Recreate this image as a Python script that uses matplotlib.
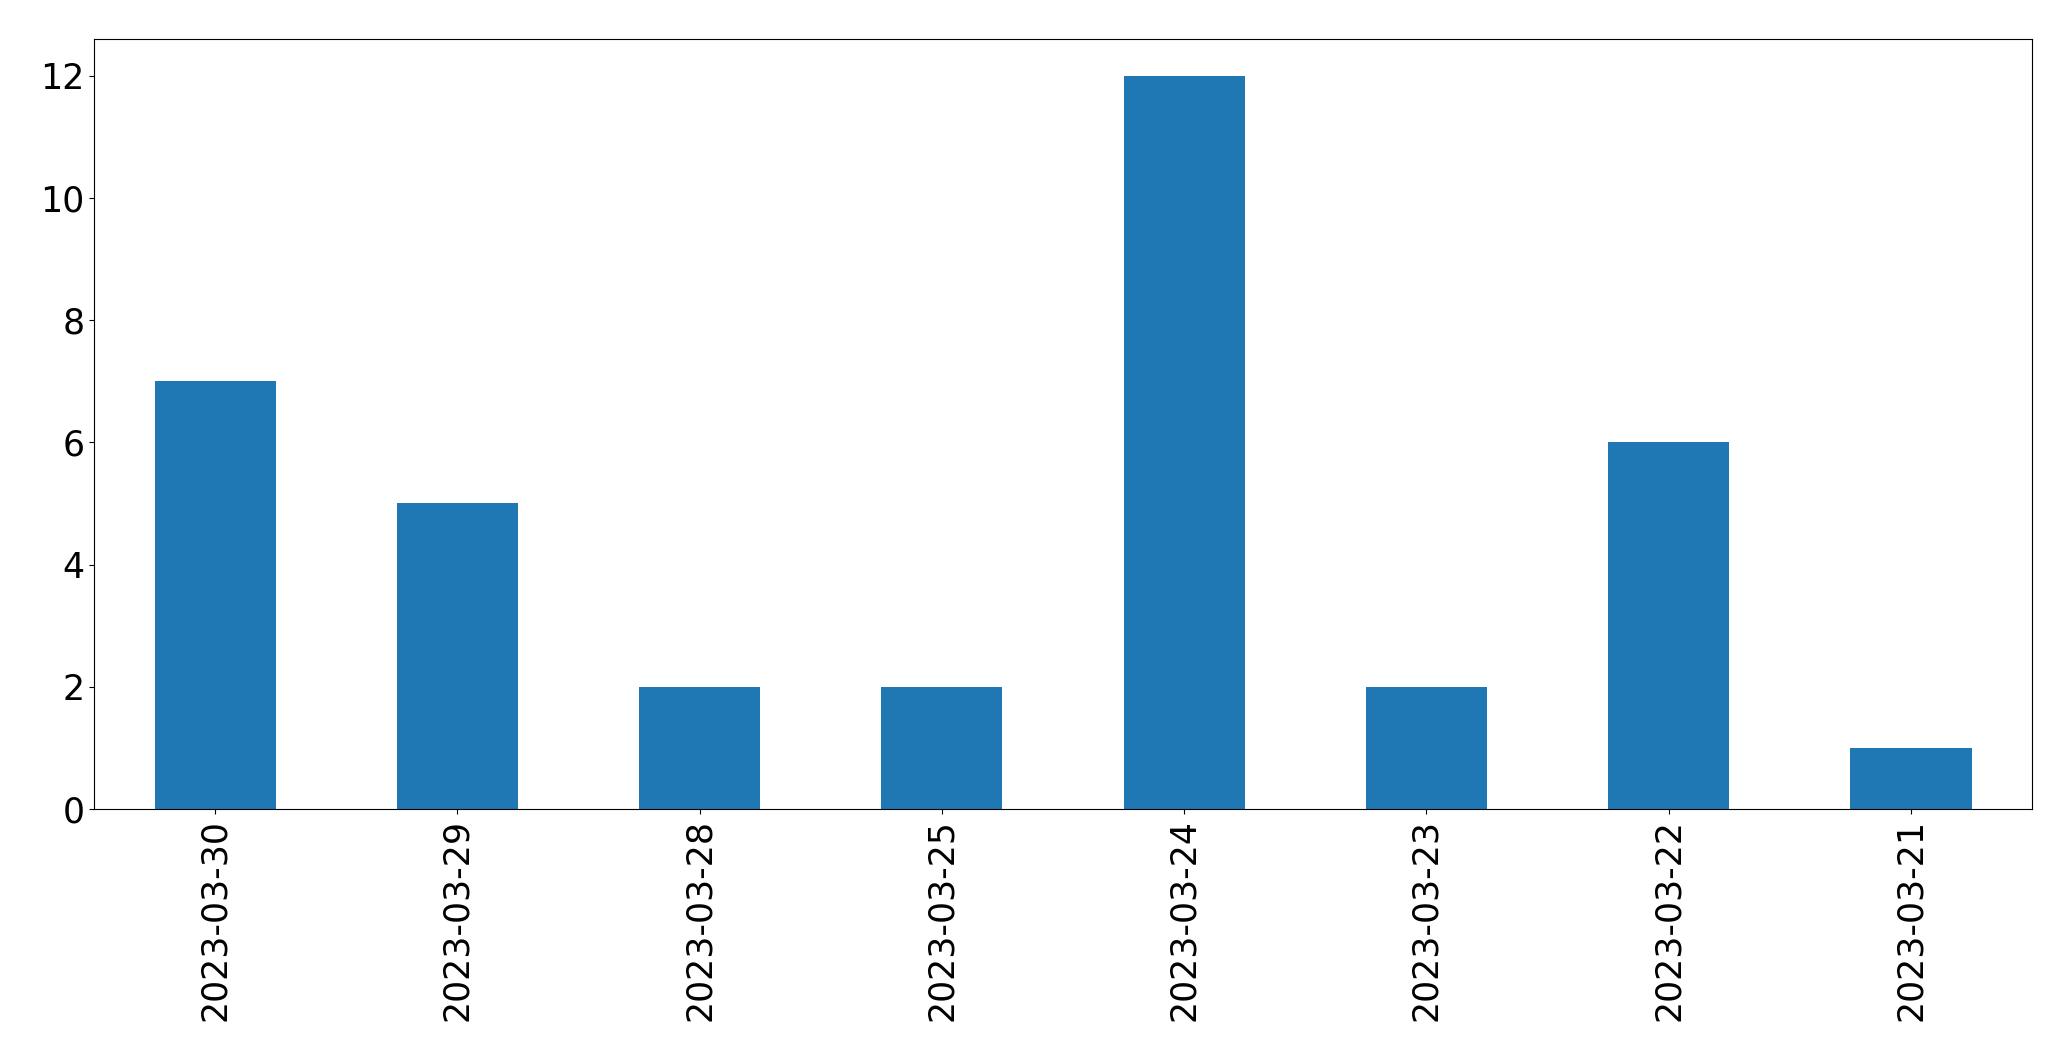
import matplotlib
matplotlib.use("Agg")
import matplotlib.pyplot as plt

# Daten
dates = ["2023-03-30", "2023-03-29", "2023-03-28", "2023-03-25",
         "2023-03-24", "2023-03-23", "2023-03-22", "2023-03-21"]
counts = [7, 5, 2, 2, 12, 2, 6, 1]

fig = plt.figure(figsize=(20.71, 10.61), dpi=100)
ax = fig.add_axes([0.0454, 0.2375, 0.9358, 0.7257])

x = range(len(dates))
ax.bar(x, counts, width=0.5, color="#1f77b4")
ax.set_xlim(-0.5, len(dates) - 0.5)
ax.set_xticks(list(x))
ax.set_xticklabels(dates, rotation=90)
ax.tick_params(axis="both", labelsize=25)

fig.savefig("out.png", dpi=100)
